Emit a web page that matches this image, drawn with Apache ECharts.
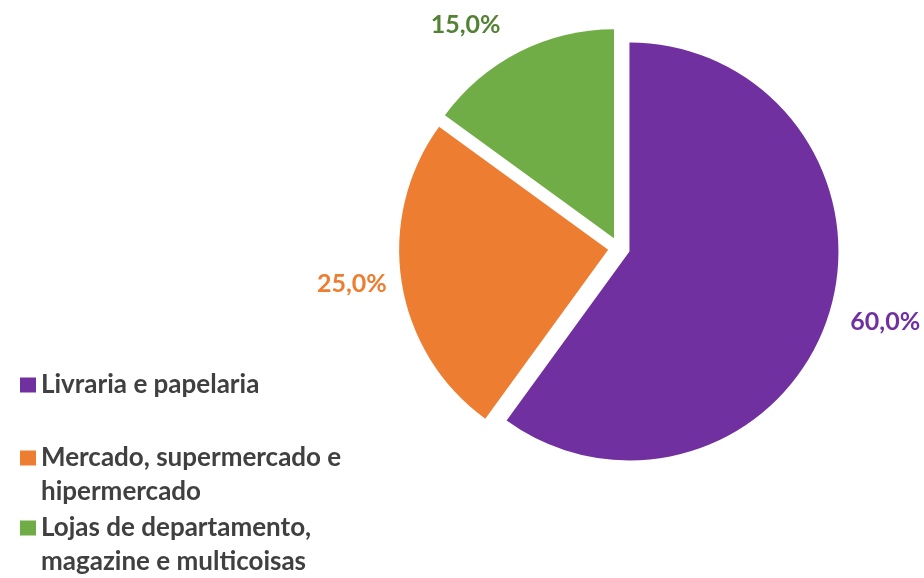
<!DOCTYPE html>
<html>
<head>
<meta charset="utf-8">
<script src="https://cdn.jsdelivr.net/npm/echarts@6/dist/echarts.min.js"></script>
<style>
  html, body { margin: 0; padding: 0; background: #fff; }
  #chart { width: 924px; height: 578px; }
</style>
</head>
<body>
<div id="chart"></div>
<script>
// dados do gráfico
const categorias = [
  'Livraria e papelaria',
  'Mercado, supermercado e\nhipermercado',
  'Lojas de departamento,\nmagazine e multicoisas'
];
const valores = [60.0, 25.0, 15.0];
const cores = ['#7030A0', '#ED7D31', '#70AD47'];
const coresRotulo = ['#7030A0', '#ED7D31', '#548235'];
const comprimentoLinha = [18, 10, 30];

const fonte = 'Lato, "Open Sans", sans-serif';

const chart = echarts.init(document.getElementById('chart'));

// cada item da legenda fica num componente próprio para acertar a posição
// (linha vazia no topo para o quadrado ficar alinhado com a primeira linha)
const legendTops = [368, 407, 477];
const legends = categorias.map((nome, i) => ({
  orient: 'vertical',
  left: 20,
  top: legendTops[i],
  padding: 0,
  itemWidth: 16,
  itemHeight: 15,
  itemGap: 0,
  icon: 'rect',
  selectedMode: false,
  data: [nome],
  formatter: n => (n.indexOf('\n') >= 0 ? ' \n' + n : n),
  textStyle: {
    color: '#404040',
    fontFamily: fonte,
    fontWeight: 'bold',
    fontSize: 26,
    lineHeight: 34
  }
}));

const option = {
  animation: false,
  color: cores,
  legend: legends,
  series: [
    {
      type: 'pie',
      center: [619, 248],
      radius: 209,
      startAngle: 90,
      clockwise: true,
      avoidLabelOverlap: false,
      selectedMode: 'multiple',
      selectedOffset: 11,
      emphasis: { disabled: true },
      label: {
        show: true,
        position: 'outside',
        fontFamily: fonte,
        fontWeight: 'bold',
        fontSize: 25,
        distanceToLabelLine: 5,
        formatter: p => p.value.toFixed(1).replace('.', ',') + '%'
      },
      labelLine: { show: false, length2: 0 },
      data: categorias.map((nome, i) => ({
        name: nome,
        value: valores[i],
        selected: true,
        label: { color: coresRotulo[i] },
        labelLine: { length: comprimentoLinha[i] }
      }))
    }
  ]
};

chart.setOption(option);
</script>
</body>
</html>
